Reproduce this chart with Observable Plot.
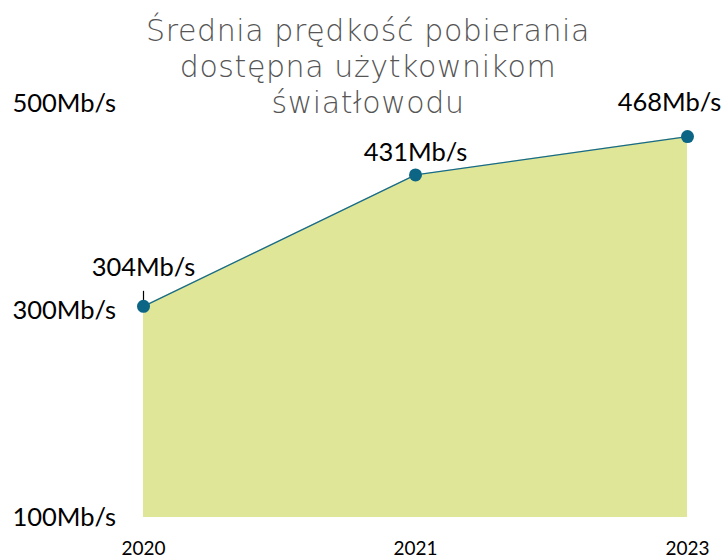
<!DOCTYPE html>
<html>
<head>
<meta charset="utf-8">
<script src="https://cdn.jsdelivr.net/npm/d3@7"></script>
<script src="https://cdn.jsdelivr.net/npm/@observablehq/plot@0.6"></script>
<style>
  html, body { margin: 0; padding: 0; background: #fff; }
  #wrap { position: relative; width: 723px; height: 558px; overflow: hidden; }
  #title { position: absolute; left: 0; top: 13px; width: 736px; text-align: center;
           font-family: "DejaVu Sans", sans-serif; font-weight: 200; font-size: 30px; letter-spacing: 0.6px; color: #555555; }
  #title div { height: 36px; line-height: 36px; white-space: nowrap; }
  svg { font-family: Lato, sans-serif; }
</style>
</head>
<body>
<div id="wrap">
  <div id="chart"></div>
  <div id="title"></div>
</div>
<script>
const titleLines = ["Średnia prędkość pobierania", "dostępna użytkownikom", "światłowodu"];
const years = ["2020", "2021", "2023"];
const speeds = [304, 431, 468];
const yTicks = [100, 300, 500];
const unit = "Mb/s";

const titleEl = document.getElementById("title");
titleLines.forEach(t => { const d = document.createElement("div"); d.textContent = t; titleEl.appendChild(d); });

const data = years.map((y, i) => ({year: y, v: speeds[i]}));
const fmt = d => d + unit;

const chart = Plot.plot({
  width: 723,
  height: 558,
  marginLeft: 143,
  marginRight: 36,
  marginTop: 103,
  marginBottom: 41,
  style: {fontFamily: "Lato, sans-serif", color: "#000"},
  x: {type: "point", domain: years, padding: 0, label: null},
  y: {domain: [100, 500], axis: null},
  marks: [
    Plot.areaY(data, {x: "year", y1: 100, y2: "v", fill: "#dfe697"}),
    Plot.line(data, {x: "year", y: "v", stroke: "#176a8c", strokeWidth: 1.3}),
    Plot.link(data.slice(0, 1), {x1: "year", x2: "year", y1: d => d.v + 4, y2: d => d.v + 15, stroke: "#000", strokeWidth: 1.2}),
    Plot.dot(data, {x: "year", y: "v", r: 6.5, fill: "#0c6585"}),
    Plot.text(data.slice(0, 1), {x: "year", y: "v", text: d => fmt(d.v), dy: -39, fontSize: 25.5}),
    Plot.text(data.slice(1, 2), {x: "year", y: "v", text: d => fmt(d.v), dy: -22, fontSize: 25.5}),
    Plot.text(data.slice(2, 3), {x: "year", y: "v", text: d => fmt(d.v), dx: -18, dy: -34, fontSize: 25.5}),
    Plot.text(yTicks, {y: d => d, text: d => fmt(d), frameAnchor: "left", textAnchor: "start", dx: -131, fontSize: 25.5}),
    Plot.axisX({tickSize: 0, tickPadding: 24, fontSize: 19, fill: "#000", label: null}),
  ]
});
document.getElementById("chart").appendChild(chart);
</script>
</body>
</html>
